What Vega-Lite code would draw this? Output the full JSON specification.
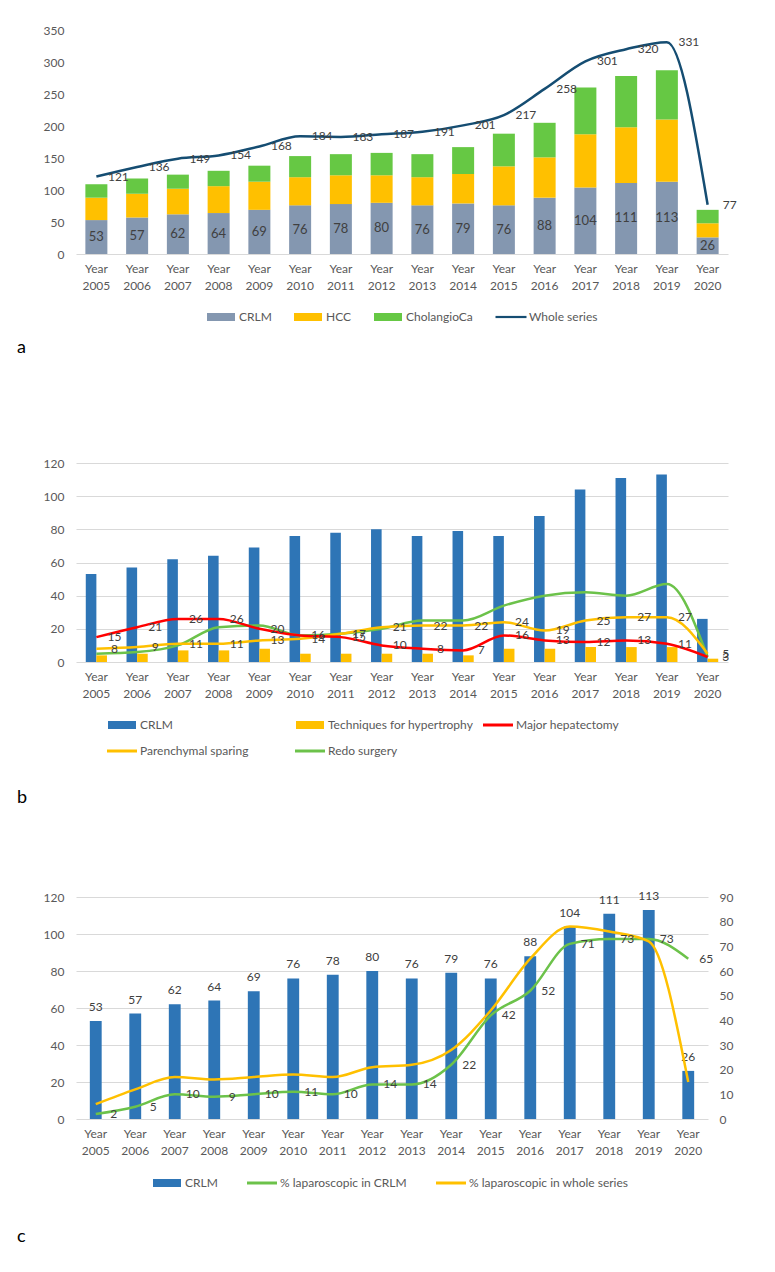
{
  "$schema": "https://vega.github.io/schema/vega-lite/v6.json",
  "background": "white",
  "padding": {"left": 5, "top": 24, "right": 5, "bottom": 5},
  "config": {
    "font": "Lato",
    "view": {"stroke": null},
    "axis": {"labelFont": "Lato", "labelFontSize": 12, "labelColor": "#595959", "ticks": false, "tickSize": 0, "domain": false, "gridColor": "#d9d9d9", "gridWidth": 1, "labelOverlap": false},
    "legend": {"labelFont": "Lato", "labelFontSize": 12, "labelColor": "#595959", "symbolSize": 400, "labelOffset": 8},
    "title": {"font": "Lato", "fontSize": 18, "fontWeight": "normal", "color": "#000000", "orient": "bottom", "anchor": "start"}
  },
  "datasets": {
    "a": [
      {"year": 2005, "CRLM": 53, "HCC": 35, "CholangioCa": 21, "Whole": 121},
      {"year": 2006, "CRLM": 57, "HCC": 37, "CholangioCa": 24, "Whole": 136},
      {"year": 2007, "CRLM": 62, "HCC": 40, "CholangioCa": 22, "Whole": 149},
      {"year": 2008, "CRLM": 64, "HCC": 42, "CholangioCa": 24, "Whole": 154},
      {"year": 2009, "CRLM": 69, "HCC": 44, "CholangioCa": 25, "Whole": 168},
      {"year": 2010, "CRLM": 76, "HCC": 44, "CholangioCa": 33, "Whole": 184},
      {"year": 2011, "CRLM": 78, "HCC": 45, "CholangioCa": 33, "Whole": 183},
      {"year": 2012, "CRLM": 80, "HCC": 43, "CholangioCa": 35, "Whole": 187},
      {"year": 2013, "CRLM": 76, "HCC": 44, "CholangioCa": 36, "Whole": 191},
      {"year": 2014, "CRLM": 79, "HCC": 46, "CholangioCa": 42, "Whole": 201},
      {"year": 2015, "CRLM": 76, "HCC": 61, "CholangioCa": 51, "Whole": 217},
      {"year": 2016, "CRLM": 88, "HCC": 63, "CholangioCa": 54, "Whole": 258},
      {"year": 2017, "CRLM": 104, "HCC": 83, "CholangioCa": 73, "Whole": 301},
      {"year": 2018, "CRLM": 111, "HCC": 87, "CholangioCa": 80, "Whole": 320},
      {"year": 2019, "CRLM": 113, "HCC": 97, "CholangioCa": 77, "Whole": 331},
      {"year": 2020, "CRLM": 26, "HCC": 22, "CholangioCa": 21, "Whole": 77}
    ],
    "b": [
      {"year": 2005, "CRLM": 53, "Techniques for hypertrophy": 4, "Major hepatectomy": 15, "Parenchymal sparing": 8, "Redo surgery": 5},
      {"year": 2006, "CRLM": 57, "Techniques for hypertrophy": 5, "Major hepatectomy": 21, "Parenchymal sparing": 9, "Redo surgery": 6},
      {"year": 2007, "CRLM": 62, "Techniques for hypertrophy": 7, "Major hepatectomy": 26, "Parenchymal sparing": 11, "Redo surgery": 10},
      {"year": 2008, "CRLM": 64, "Techniques for hypertrophy": 7, "Major hepatectomy": 26, "Parenchymal sparing": 11, "Redo surgery": 21},
      {"year": 2009, "CRLM": 69, "Techniques for hypertrophy": 8, "Major hepatectomy": 20, "Parenchymal sparing": 13, "Redo surgery": 22},
      {"year": 2010, "CRLM": 76, "Techniques for hypertrophy": 5, "Major hepatectomy": 16, "Parenchymal sparing": 14, "Redo surgery": 16},
      {"year": 2011, "CRLM": 78, "Techniques for hypertrophy": 5, "Major hepatectomy": 15, "Parenchymal sparing": 17, "Redo surgery": 17},
      {"year": 2012, "CRLM": 80, "Techniques for hypertrophy": 5, "Major hepatectomy": 10, "Parenchymal sparing": 21, "Redo surgery": 20},
      {"year": 2013, "CRLM": 76, "Techniques for hypertrophy": 5, "Major hepatectomy": 8, "Parenchymal sparing": 22, "Redo surgery": 25},
      {"year": 2014, "CRLM": 79, "Techniques for hypertrophy": 4, "Major hepatectomy": 7, "Parenchymal sparing": 22, "Redo surgery": 25},
      {"year": 2015, "CRLM": 76, "Techniques for hypertrophy": 8, "Major hepatectomy": 16, "Parenchymal sparing": 24, "Redo surgery": 34},
      {"year": 2016, "CRLM": 88, "Techniques for hypertrophy": 8, "Major hepatectomy": 13, "Parenchymal sparing": 19, "Redo surgery": 40},
      {"year": 2017, "CRLM": 104, "Techniques for hypertrophy": 9, "Major hepatectomy": 12, "Parenchymal sparing": 25, "Redo surgery": 42},
      {"year": 2018, "CRLM": 111, "Techniques for hypertrophy": 9, "Major hepatectomy": 13, "Parenchymal sparing": 27, "Redo surgery": 40},
      {"year": 2019, "CRLM": 113, "Techniques for hypertrophy": 9, "Major hepatectomy": 11, "Parenchymal sparing": 27, "Redo surgery": 47},
      {"year": 2020, "CRLM": 26, "Techniques for hypertrophy": 2, "Major hepatectomy": 3, "Parenchymal sparing": 5, "Redo surgery": 3}
    ],
    "c": [
      {"year": 2005, "CRLM": 53, "% laparoscopic in CRLM": 2, "% laparoscopic in whole series": 6},
      {"year": 2006, "CRLM": 57, "% laparoscopic in CRLM": 5, "% laparoscopic in whole series": 12},
      {"year": 2007, "CRLM": 62, "% laparoscopic in CRLM": 10, "% laparoscopic in whole series": 17},
      {"year": 2008, "CRLM": 64, "% laparoscopic in CRLM": 9, "% laparoscopic in whole series": 16},
      {"year": 2009, "CRLM": 69, "% laparoscopic in CRLM": 10, "% laparoscopic in whole series": 17},
      {"year": 2010, "CRLM": 76, "% laparoscopic in CRLM": 11, "% laparoscopic in whole series": 18},
      {"year": 2011, "CRLM": 78, "% laparoscopic in CRLM": 10, "% laparoscopic in whole series": 17},
      {"year": 2012, "CRLM": 80, "% laparoscopic in CRLM": 14, "% laparoscopic in whole series": 21},
      {"year": 2013, "CRLM": 76, "% laparoscopic in CRLM": 14, "% laparoscopic in whole series": 22},
      {"year": 2014, "CRLM": 79, "% laparoscopic in CRLM": 22, "% laparoscopic in whole series": 28},
      {"year": 2015, "CRLM": 76, "% laparoscopic in CRLM": 42, "% laparoscopic in whole series": 44},
      {"year": 2016, "CRLM": 88, "% laparoscopic in CRLM": 52, "% laparoscopic in whole series": 65},
      {"year": 2017, "CRLM": 104, "% laparoscopic in CRLM": 71, "% laparoscopic in whole series": 78},
      {"year": 2018, "CRLM": 111, "% laparoscopic in CRLM": 73, "% laparoscopic in whole series": 76},
      {"year": 2019, "CRLM": 113, "% laparoscopic in CRLM": 73, "% laparoscopic in whole series": 72},
      {"year": 2020, "CRLM": 26, "% laparoscopic in CRLM": 65, "% laparoscopic in whole series": 15}
    ]
  },
  "spacing": 82,
  "resolve": {"scale": {"color": "independent"}, "legend": {"color": "independent"}},
  "vconcat": [
    {
      "spacing": 100,
      "resolve": {"scale": {"color": "independent"}, "legend": {"color": "independent"}},
      "vconcat": [
        {
          "width": 652,
          "height": 224,
          "title": {"text": "a", "offset": 16, "dx": 12},
          "data": {"name": "a"},
          "encoding": {
            "x": {"field": "year", "type": "ordinal", "title": null, "scale": {"paddingInner": 0.46, "paddingOuter": 0.23},
              "axis": {"labelExpr": "['Year', datum.label]", "labelAngle": 0, "labelPadding": 9, "labelLineHeight": 17, "labelBaseline": "top", "domain": true, "domainColor": "#d9d9d9"}}
          },
          "layer": [
            {
              "transform": [
                {"fold": ["CRLM", "HCC", "CholangioCa"], "as": ["series", "value"]},
                {"calculate": "indexof(['CRLM','HCC','CholangioCa'], datum.series)", "as": "ord"}
              ],
              "mark": {"type": "bar"},
              "encoding": {
                "y": {"field": "value", "type": "quantitative", "stack": "zero", "title": null, "scale": {"domain": [0, 350]},
                  "axis": {"values": [0, 50, 100, 150, 200, 250, 300, 350], "tickCount": 40, "labelOverlap": false, "grid": false, "labelPadding": 12, "minExtent": 71, "maxExtent": 71}},
                "color": {"field": "series", "type": "nominal", "title": null,
                  "scale": {"domain": ["CRLM", "HCC", "CholangioCa", "Whole series"], "range": ["#8497B0", "#FFC000", "#66C844", "#154D72"]},
                  "legend": {"orient": "none", "legendX": 135, "legendY": 277, "direction": "horizontal", "title": null, "columnPadding": 22,
                    "encode": {"symbols": {"update": {
                      "shape": {"signal": "datum.value === 'Whole series' ? 'M-1.55,-0.11H1.55V0.11H-1.55Z' : 'M-1.4,-0.4H1.4V0.4H-1.4Z'"},
                      "fill": {"signal": "datum.value === 'CRLM' ? '#8497B0' : datum.value === 'HCC' ? '#FFC000' : datum.value === 'CholangioCa' ? '#66C844' : '#154D72'"},
                      "stroke": {"value": "transparent"}, "strokeWidth": {"value": 0}, "size": {"value": 400}, "opacity": {"value": 1}}}}}},
                "order": {"field": "ord", "type": "quantitative"}
              }
            },
            {
              "transform": [{"calculate": "datum.CRLM / 2", "as": "crlm_mid"}],
              "mark": {"type": "text", "color": "#404040", "fontSize": 13},
              "encoding": {"y": {"field": "crlm_mid", "type": "quantitative", "title": null}, "text": {"field": "CRLM", "type": "quantitative"}}
            },
            {
              "mark": {"type": "line", "interpolate": "monotone", "strokeWidth": 2.5},
              "encoding": {"y": {"field": "Whole", "type": "quantitative", "title": null}, "color": {"datum": "Whole series", "type": "nominal", "title": null}}
            },
            {
              "mark": {"type": "text", "dx": 22, "color": "#404040", "fontSize": 12},
              "encoding": {"y": {"field": "Whole", "type": "quantitative", "title": null}, "text": {"field": "Whole", "type": "quantitative"}}
            }
          ]
        },
        {
          "width": 652,
          "height": 199,
          "title": {"text": "b", "offset": 32, "dx": 12},
          "data": {"name": "b"},
          "encoding": {
            "x": {"field": "year", "type": "ordinal", "title": null, "scale": {"paddingInner": 0.48, "paddingOuter": 0.24},
              "axis": {"labelExpr": "['Year', datum.label]", "labelAngle": 0, "labelPadding": 9, "labelLineHeight": 17, "labelBaseline": "top"}}
          },
          "layer": [
            {
              "transform": [{"fold": ["CRLM", "Techniques for hypertrophy"], "as": ["series", "value"]}],
              "mark": {"type": "bar"},
              "encoding": {
                "xOffset": {"field": "series", "type": "nominal", "scale": {"domain": ["CRLM", "Techniques for hypertrophy"], "paddingInner": 0, "paddingOuter": 0}},
                "y": {"field": "value", "type": "quantitative", "title": null, "scale": {"domain": [0, 120]},
                  "axis": {"values": [0, 20, 40, 60, 80, 100, 120], "tickCount": 40, "labelOverlap": false, "grid": true, "labelPadding": 12, "minExtent": 71, "maxExtent": 71}},
                "color": {"field": "series", "type": "nominal", "title": null,
                  "scale": {"domain": ["CRLM", "Techniques for hypertrophy", "Major hepatectomy", "Parenchymal sparing", "Redo surgery"], "range": ["#2E75B6", "#FFC000", "#FF0000", "#FFC000", "#6CC24A"]},
                  "legend": {"orient": "none", "legendX": 36, "legendY": 252, "direction": "horizontal", "columns": 3, "gridAlign": "all", "title": null, "columnPadding": 9, "rowPadding": 10,
                    "encode": {"symbols": {"update": {
                      "shape": {"signal": "(datum.value === 'CRLM' || datum.value === 'Techniques for hypertrophy') ? 'M-1.4,-0.4H1.4V0.4H-1.4Z' : 'M-1.5,-0.15H1.5V0.15H-1.5Z'"},
                      "fill": {"signal": "datum.value === 'CRLM' ? '#2E75B6' : datum.value === 'Major hepatectomy' ? '#FF0000' : datum.value === 'Redo surgery' ? '#6CC24A' : '#FFC000'"},
                      "stroke": {"value": "transparent"}, "strokeWidth": {"value": 0}, "size": {"value": 400}, "opacity": {"value": 1}}}}}}
              }
            },
            {
              "transform": [{"fold": ["Redo surgery", "Parenchymal sparing", "Major hepatectomy"], "as": ["series", "value"]}],
              "mark": {"type": "line", "interpolate": "monotone", "strokeWidth": 2.5},
              "encoding": {"y": {"field": "value", "type": "quantitative", "title": null}, "color": {"field": "series", "type": "nominal", "title": null}}
            },
            {
              "transform": [{"fold": ["Parenchymal sparing", "Major hepatectomy"], "as": ["series", "value"]}],
              "mark": {"type": "text", "dx": 18, "color": "#404040", "fontSize": 12},
              "encoding": {"y": {"field": "value", "type": "quantitative", "title": null}, "text": {"field": "value", "type": "quantitative"}}
            }
          ]
        }
      ]
    },
    {
      "width": 632,
      "height": 222,
      "title": {"text": "c", "offset": 39, "dx": 12},
      "data": {"name": "c"},
      "encoding": {
        "x": {"field": "year", "type": "ordinal", "title": null, "scale": {"paddingInner": 0.7, "paddingOuter": 0.35},
          "axis": {"labelExpr": "['Year', datum.label]", "labelAngle": 0, "labelPadding": 9, "labelLineHeight": 17, "labelBaseline": "top"}}
      },
      "resolve": {"scale": {"y": "independent"}},
      "layer": [
        {
          "layer": [
            {
              "mark": {"type": "bar"},
              "encoding": {
                "y": {"field": "CRLM", "type": "quantitative", "title": null, "scale": {"domain": [0, 120]},
                  "axis": {"values": [0, 20, 40, 60, 80, 100, 120], "tickCount": 40, "labelOverlap": false, "grid": true, "labelPadding": 12, "minExtent": 71, "maxExtent": 71}},
                "color": {"datum": "CRLM", "type": "nominal", "title": null,
                  "scale": {"domain": ["CRLM", "% laparoscopic in CRLM", "% laparoscopic in whole series"], "range": ["#2E75B6", "#6CC24A", "#FFC000"]},
                  "legend": {"orient": "none", "legendX": 81, "legendY": 276, "direction": "horizontal", "title": null, "columnPadding": 29,
                    "encode": {"symbols": {"update": {
                      "shape": {"signal": "datum.value === 'CRLM' ? 'M-1.4,-0.4H1.4V0.4H-1.4Z' : 'M-1.5,-0.15H1.5V0.15H-1.5Z'"},
                      "fill": {"signal": "datum.value === 'CRLM' ? '#2E75B6' : datum.value === '% laparoscopic in CRLM' ? '#6CC24A' : '#FFC000'"},
                      "stroke": {"value": "transparent"}, "strokeWidth": {"value": 0}, "size": {"value": 400}, "opacity": {"value": 1}}}}}}
              }
            },
            {
              "mark": {"type": "text", "dy": -14, "color": "#404040", "fontSize": 12},
              "encoding": {"y": {"field": "CRLM", "type": "quantitative", "title": null}, "text": {"field": "CRLM", "type": "quantitative"}}
            }
          ]
        },
        {
          "layer": [
            {
              "transform": [{"fold": ["% laparoscopic in CRLM", "% laparoscopic in whole series"], "as": ["series", "value"]}],
              "mark": {"type": "line", "interpolate": "monotone", "strokeWidth": 2.5},
              "encoding": {
                "y": {"field": "value", "type": "quantitative", "title": null, "scale": {"domain": [0, 90]},
                  "axis": {"orient": "right", "values": [0, 10, 20, 30, 40, 50, 60, 70, 80, 90], "tickCount": 40, "labelOverlap": false, "grid": false, "labelPadding": 11}},
                "color": {"field": "series", "type": "nominal", "title": null}
              }
            },
            {
              "mark": {"type": "text", "dx": 18, "color": "#404040", "fontSize": 12},
              "encoding": {"y": {"field": "% laparoscopic in CRLM", "type": "quantitative", "title": null}, "text": {"field": "% laparoscopic in CRLM", "type": "quantitative"}}
            }
          ]
        }
      ]
    }
  ]
}
